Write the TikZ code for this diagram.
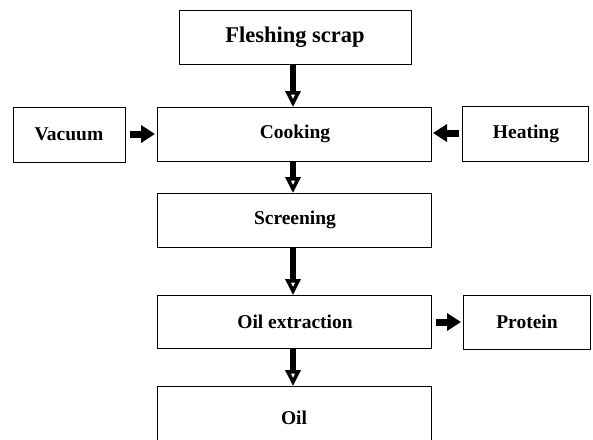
\documentclass[tikz,border=0pt]{standalone}
\usepackage{fontspec}
\setmainfont{Liberation Serif}
\usetikzlibrary{arrows.meta}
\begin{document}
\begin{tikzpicture}[x=1pt,y=-1pt,
  box/.style={draw=black,line width=1pt},
  lbl/.style={font=\fontsize{19.5}{21}\selectfont\bfseries,inner sep=0pt},
  downarr/.style={line width=5.5pt,-{Triangle[open,fill=white,length=16pt,width=15pt,line width=3.5pt]}},
  sidearr/.style={line width=7pt,-{Triangle[length=14pt,width=17pt]}}]
\useasboundingbox (0,0) rectangle (593,439);
\clip (0,0) rectangle (593,439);
% boxes
\draw[box] (179,10) rectangle (411,64);
\node[lbl,font=\fontsize{22.5}{24}\selectfont\bfseries] (fs) at (295,37) {Fleshing scrap};
\draw[box] (157,107) rectangle (431,161);
\node[lbl] (ck) at (295,134) {Cooking};
\draw[box] (13,107) rectangle (125,162);
\node[lbl] (va) at (69,134) {Vacuum};
\draw[box] (462,106) rectangle (588,161);
\node[lbl] (he) at (526,134) {Heating};
\draw[box] (157,193) rectangle (431,247);
\node[lbl] (sc) at (295,220) {Screening};
\draw[box] (157,295) rectangle (431,348);
\node[lbl] (oe) at (295,322) {Oil extraction};
\draw[box] (463,295) rectangle (590,349);
\node[lbl] (pr) at (527,322) {Protein};
\draw[box] (157,460) -- (157,386) -- (431,386) -- (431,460);
\node[lbl] (oil) at (294,418) {Oil};
% connector anchor points
\coordinate (a1s) at (293,64);  \coordinate (a1e) at (293,107);
\coordinate (a2s) at (293,161); \coordinate (a2e) at (293,193);
\coordinate (a3s) at (293,247); \coordinate (a3e) at (293,295);
\coordinate (a4s) at (293,348); \coordinate (a4e) at (293,386);
\coordinate (v1) at (130,134);  \coordinate (v2) at (155,134);
\coordinate (h1) at (459,133);  \coordinate (h2) at (433,133);
\coordinate (p1) at (436,322);  \coordinate (p2) at (461,322);
% arrows
\draw[downarr] (a1s) -- (a1e);
\draw[downarr] (a2s) -- (a2e);
\draw[downarr] (a3s) -- (a3e);
\draw[downarr] (a4s) -- (a4e);
\draw[sidearr] (v1) -- (v2);
\draw[sidearr] (h1) -- (h2);
\draw[sidearr] (p1) -- (p2);
\end{tikzpicture}
\end{document}
